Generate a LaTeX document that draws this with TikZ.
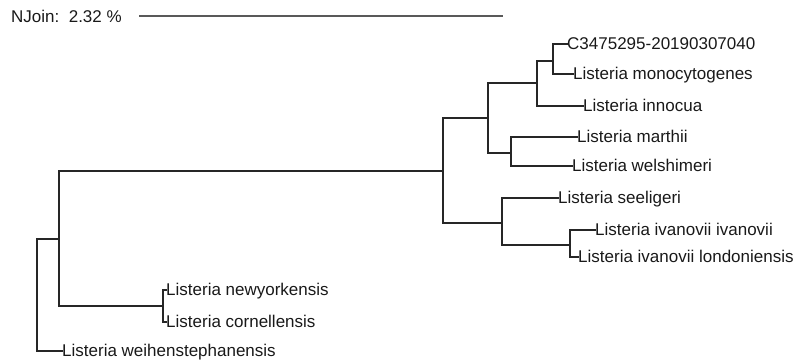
\documentclass[tikz,border=0pt]{standalone}
\usepackage{fontspec}
\setmainfont{Liberation Sans}
\begin{document}
\begin{tikzpicture}[x=1pt,y=-1pt,
  br/.style={line width=1.6pt,color=black!85,line cap=rect},
  lab/.style={anchor=base west,inner sep=0pt,font=\fontsize{17}{17}\selectfont,text=black!90},
  bar/.style={line width=2.5pt,color=black!65}]
\useasboundingbox (0,0) rectangle (803,364);
% scale
\node[anchor=base west,inner sep=0pt,font=\fontsize{17}{17}\selectfont,text=black!90] (sc) at (11,22) {NJoin:\ \ 2.32 \%};
\coordinate (s1) at (139,16);
\coordinate (s2) at (503,16);
\draw[bar] (s1) -- (s2);
% internal nodes
\coordinate (r) at (37,239);
\coordinate (a) at (59,239);
\coordinate (b) at (443,171);
\coordinate (c) at (488,118);
\coordinate (d) at (537,83);
\coordinate (e) at (553,61);
\coordinate (f) at (511,153);
\coordinate (g) at (502,223);
\coordinate (h) at (570,245);
\coordinate (i) at (163,306);
% leaf tips
\coordinate (t1) at (567,44);
\coordinate (t2) at (573,74);
\coordinate (t3) at (583,106);
\coordinate (t4) at (577,137);
\coordinate (t5) at (572,166);
\coordinate (t6) at (558,198);
\coordinate (t7) at (595,230);
\coordinate (t8) at (578,257);
\coordinate (t9) at (166,290);
\coordinate (t10) at (166,322);
\coordinate (t11) at (62,351);
% labels
\node[lab] (l1) at ([yshift=-5.5]t1) {C3475295-20190307040};
\node[lab] (l2) at ([yshift=-5.5]t2) {Listeria monocytogenes};
\node[lab] (l3) at ([yshift=-5.5]t3) {Listeria innocua};
\node[lab] (l4) at ([yshift=-5.5]t4) {Listeria marthii};
\node[lab] (l5) at ([yshift=-5.5]t5) {Listeria welshimeri};
\node[lab] (l6) at ([yshift=-5.5]t6) {Listeria seeligeri};
\node[lab] (l7) at ([yshift=-5.5]t7) {Listeria ivanovii ivanovii};
\node[lab] (l8) at ([yshift=-5.5]t8) {Listeria ivanovii londoniensis};
\node[lab] (l9) at ([yshift=-5.5]t9) {Listeria newyorkensis};
\node[lab] (l10) at ([yshift=-5.5]t10) {Listeria cornellensis};
\node[lab] (l11) at ([yshift=-5.5]t11) {Listeria weihenstephanensis};
% branches
\draw[br] (r) |- (a);
\draw[br] (r) |- (t11);
\draw[br] (a) |- (b);
\draw[br] (a) |- (i);
\draw[br] (b) |- (c);
\draw[br] (b) |- (g);
\draw[br] (c) |- (d);
\draw[br] (c) |- (f);
\draw[br] (d) |- (e);
\draw[br] (d) |- (t3);
\draw[br] (e) |- (t1);
\draw[br] (e) |- (t2);
\draw[br] (f) |- (t4);
\draw[br] (f) |- (t5);
\draw[br] (g) |- (t6);
\draw[br] (g) |- (h);
\draw[br] (h) |- (t7);
\draw[br] (h) |- (t8);
\draw[br] (i) |- (t9);
\draw[br] (i) |- (t10);
\end{tikzpicture}
\end{document}
